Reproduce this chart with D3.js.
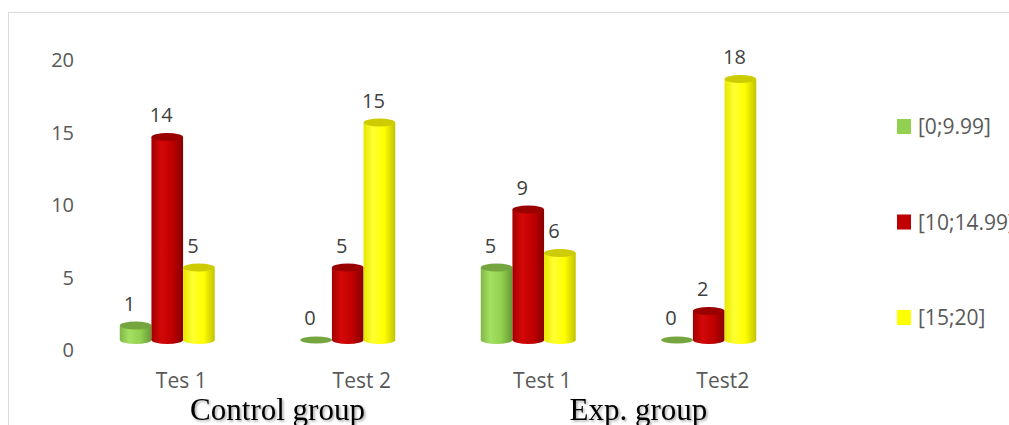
<!DOCTYPE html>
<html>
<head>
<meta charset="utf-8">
<script src="https://cdn.jsdelivr.net/npm/d3@7"></script>
<style>
  body { margin: 0; background: #fff; overflow: hidden; }
  svg { display: block; }
</style>
</head>
<body>
<script>
// chart data
var categories = ["Tes 1", "Test 2", "Test 1", "Test2"];
var groups = ["Control group", "Exp. group"];
var series = ["[0;9.99]", "[10;14.99]", "[15;20]"];
var lowScores = [1, 0, 5, 0];
var midScores = [14, 5, 9, 2];
var highScores = [5, 15, 6, 18];
var yTicks = [0, 5, 10, 15, 20];

var values = [lowScores, midScores, highScores];
var colors = ["#92D050", "#C00000", "#FFFF00"];
var tops = ["#74a53f", "#9a0000", "#cccc00"];
var shades = [
    ["#7fb846", "#a4e062", "#92d050", "#679a35"],
    ["#a30000", "#d40808", "#c00000", "#870000"],
    ["#e6e600", "#ffff33", "#ffff00", "#c2c200"]
];

var svg = d3.select("body")
    .append("svg")
    .attr("width", 1009)
    .attr("height", 425);

var defs = svg.append("defs");

series.forEach(function(s, i) {
    var g = defs.append("linearGradient")
        .attr("id", "cyl" + i)
        .attr("x1", "0%").attr("x2", "100%")
        .attr("y1", "0%").attr("y2", "0%");
    [0, 0.3, 0.65, 1].forEach(function(o, j) {
        g.append("stop").attr("offset", o).attr("stop-color", shades[i][j]);
    });
});

var shadow = defs.append("filter").attr("id", "tshadow")
    .attr("x", "-10%").attr("y", "-20%").attr("width", "120%").attr("height", "140%");
shadow.append("feDropShadow")
    .attr("dx", 1.5).attr("dy", 1.5).attr("stdDeviation", 1)
    .attr("flood-color", "#000").attr("flood-opacity", 0.35);

// frame
svg.append("line")
    .attr("x1", 8).attr("x2", 1009).attr("y1", 12.5).attr("y2", 12.5)
    .attr("stroke", "#d9d9d9");
svg.append("line")
    .attr("x1", 8.5).attr("x2", 8.5).attr("y1", 12).attr("y2", 425)
    .attr("stroke", "#d9d9d9");

var x0 = d3.scaleBand()
    .domain(categories)
    .range([77, 799])
    .paddingInner(0.474)
    .paddingOuter(0.237);

var x1 = d3.scaleBand()
    .domain(series)
    .range([0, x0.bandwidth()]);

var y = d3.scaleLinear()
    .domain([0, 20])
    .range([340, 50]);

// y axis labels
var yAxis = svg.append("g")
    .attr("transform", "translate(74,10.5)")
    .call(d3.axisLeft(y).tickValues(yTicks).tickSize(0).tickPadding(0));
yAxis.select(".domain").remove();
yAxis.selectAll("text")
    .attr("font-family", "Open Sans")
    .attr("font-size", "20px")
    .attr("fill", "#595959");

// x axis labels
var xAxis = svg.append("g")
    .attr("transform", "translate(14,373)")
    .call(d3.axisBottom(x0).tickSize(0).tickPadding(0));
xAxis.select(".domain").remove();
xAxis.selectAll("text")
    .attr("font-family", "Open Sans")
    .attr("font-size", "21px")
    .attr("fill", "#595959");

// cylinders
var bars = [];
categories.forEach(function(c, ci) {
    series.forEach(function(s, si) {
        bars.push({cat: c, ser: s, si: si, value: values[si][ci]});
    });
});

var w = x1.bandwidth();
var ry = 4;

var cyl = svg.append("g").selectAll("g")
    .data(bars)
    .enter()
    .append("g")
    .attr("transform", function(d) {
        return "translate(" + (x0(d.cat) + x1(d.ser)) + ",0)";
    });

cyl.filter(function(d) { return d.value > 0; })
    .append("ellipse")
    .attr("cx", w / 2)
    .attr("cy", y(0))
    .attr("rx", w / 2)
    .attr("ry", ry)
    .attr("fill", function(d) { return "url(#cyl" + d.si + ")"; });

cyl.filter(function(d) { return d.value > 0; })
    .append("rect")
    .attr("x", 0)
    .attr("y", function(d) { return y(d.value); })
    .attr("width", w)
    .attr("height", function(d) { return y(0) - y(d.value); })
    .attr("fill", function(d) { return "url(#cyl" + d.si + ")"; });

cyl.append("ellipse")
    .attr("cx", w / 2)
    .attr("cy", function(d) { return y(d.value); })
    .attr("rx", w / 2)
    .attr("ry", function(d) { return d.value > 0 ? ry : 3.5; })
    .attr("fill", function(d) { return tops[d.si]; });

// value labels
cyl.append("text")
    .text(function(d) { return d.value; })
    .attr("x", w / 2 - 6)
    .attr("y", function(d) { return y(d.value) - 15; })
    .attr("text-anchor", "middle")
    .attr("font-family", "Open Sans")
    .attr("font-size", "20px")
    .attr("fill", "#404040");

// group titles
svg.append("g").selectAll("text")
    .data(groups)
    .enter()
    .append("text")
    .text(function(d) { return d; })
    .attr("x", function(d, i) {
        var a = x0(categories[i * 2]), b = x0(categories[i * 2 + 1]);
        return (a + b + x0.bandwidth()) / 2 + 20;
    })
    .attr("y", 420)
    .attr("text-anchor", "middle")
    .attr("font-family", "Liberation Serif")
    .attr("font-size", "31px")
    .attr("fill", "#000")
    .attr("filter", "url(#tshadow)");

// legend
var legend = svg.append("g").selectAll("g")
    .data(series)
    .enter()
    .append("g")
    .attr("transform", function(d, i) { return "translate(897," + (119 + i * 95.5) + ")"; });

legend.append("rect")
    .attr("width", 14)
    .attr("height", 15)
    .attr("fill", function(d, i) { return colors[i]; });

legend.append("text")
    .text(function(d) { return d; })
    .attr("x", 21)
    .attr("y", 15)
    .attr("font-family", "Open Sans")
    .attr("font-size", "21px")
    .attr("fill", "#595959");
</script>
</body>
</html>
